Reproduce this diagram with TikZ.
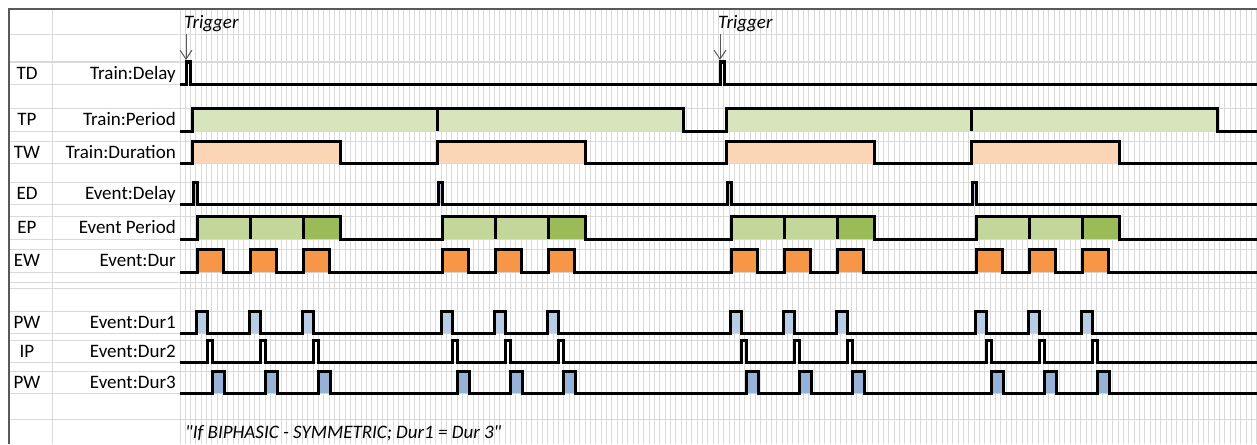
\documentclass[tikz,border=0pt]{standalone}
\usepackage{fontspec}
\setmainfont{Carlito}[Ligatures=TeXOff]
\usetikzlibrary{arrows.meta}
\definecolor{gridc}{HTML}{D9D9D9}
\definecolor{edgec}{HTML}{595959}
\definecolor{tpfill}{HTML}{D8E4BC}
\definecolor{twfill}{HTML}{FCD5B4}
\definecolor{edfill}{HTML}{CCC0DA}
\definecolor{epfill}{HTML}{C4D79B}
\definecolor{eplast}{HTML}{9BBB59}
\definecolor{ewfill}{HTML}{F79646}
\definecolor{pwfill}{HTML}{B8CCE4}
\definecolor{pwfilldk}{HTML}{95B3D7}
\tikzset{
  gridline/.style={draw=gridc, line width=1pt},
  sheetedge/.style={draw=edgec, line width=2pt},
  sig/.style={draw=black, line width=3pt, line join=miter},
  rowcode/.style={font=\fontsize{19}{22}\selectfont, inner sep=0pt, anchor=base},
  rowname/.style={font=\fontsize{19}{22}\selectfont, inner sep=0pt, anchor=base east},
  remark/.style={font=\fontsize{19}{22}\selectfont\itshape, inner sep=0pt, anchor=base west},
  trig/.style={draw=edgec, line width=1pt, shorten <=2pt,
               -{Straight Barb[length=9pt,width=12pt]}},
}
% rising edge of each train and of each event inside it
\def\trainstarts{192,437,726,971}
\def\eventstarts{197,250,303,442,495,548,731,784,837,976,1029,1082}

\begin{document}
\begin{tikzpicture}[x=1pt, y=-1pt]
\useasboundingbox (0,0) rectangle (1257,444);

% sheet grid
\foreach \i in {0,...,202}
  \draw[gridline] ({180+5.33*\i},9) -- ({180+5.33*\i},444);
\foreach \y in {35,62,84,108,131,141,163,182,204,216,239,249,272,282,288,311,333,340,362,371,393,419}
  \draw[gridline] (9,\y) -- (1257,\y);
\draw[gridline] (52,9) -- (52,444);
\draw[sheetedge] (9,444) -- (9,9) -- (1257,9);

% row labels
\foreach \y/\c/\l [count=\i] in {73/TD/Train:Delay, 119.5/TP/Train:Period,
    152/TW/Train:Duration, 193/ED/Event:Delay, 227.5/EP/Event Period,
    260.5/EW/Event:Dur, 322/PW/Event:Dur1, 351/IP/Event:Dur2, 382/PW/Event:Dur3}
  {\node[rowcode] (code\i) at (27,\y+6) {\c};
   \node[rowname] (name\i) at (176,\y+6) {\l};}

% triggers
\node[remark] (trig1) at (184,29) {Trigger};
\node[remark] (trig2) at (718,29) {Trigger};
\coordinate (td1) at (186,60);
\coordinate (td2) at (720,60);
\draw[trig] (td1 |- trig1.south) -- (td1);
\draw[trig] (td2 |- trig2.south) -- (td2);

% TD
\draw[sig] (180,84) -| (186,62) -| (190,84) -| (720,62) -| (724,84) -- (1257,84);

% TP
\fill[tpfill] (192,108) rectangle (683,131) (726,108) rectangle (1217,131);
\draw[sig] (180,131) -| (192,108) -| (683,131) -| (726,108) -| (1217,131) -- (1257,131);
\draw[sig] (437,108) -- (437,131) (971,108) -- (971,131);

% TW
\fill[twfill] \foreach \t in \trainstarts {(\t,141) rectangle (\t+148,163)};
\draw[sig] (180,163) \foreach \t in \trainstarts {-| (\t,141) -| (\t+148,163)} -- (1257,163);

% ED
\fill[edfill] \foreach \t in \trainstarts {(\t+1,182) rectangle (\t+5,204)};
\draw[sig] (180,204) \foreach \t in \trainstarts {-| (\t+1,182) -| (\t+5,204)} -- (1257,204);

% EP
\fill[epfill] \foreach \t in \trainstarts {(\t+5,216) rectangle (\t+111,239)};
\fill[eplast] \foreach \t in \trainstarts {(\t+111,216) rectangle (\t+148,239)};
\draw[sig] (180,239) \foreach \t in \trainstarts {-| (\t+5,216) -| (\t+148,239)} -- (1257,239);
\foreach \t in \trainstarts
  \draw[sig] (\t+58,216) -- (\t+58,239) (\t+111,216) -- (\t+111,239);

% EW
\fill[ewfill] \foreach \e in \eventstarts {(\e,249) rectangle (\e+26,272)};
\draw[sig] (180,272) \foreach \e in \eventstarts {-| (\e,249) -| (\e+26,272)} -- (1257,272);

% PW / IP / PW
\fill[pwfill] \foreach \e in \eventstarts {(\e-1,311) rectangle (\e+10,333)};
\draw[sig] (180,333) \foreach \e in \eventstarts {-| (\e-1,311) -| (\e+10,333)} -- (1257,333);
\draw[sig] (180,362) \foreach \e in \eventstarts {-| (\e+10,340) -| (\e+15,362)} -- (1257,362);
\fill[pwfilldk] \foreach \e in \eventstarts {(\e+15,371) rectangle (\e+27,393)};
\draw[sig] (180,393) \foreach \e in \eventstarts {-| (\e+15,371) -| (\e+27,393)} -- (1257,393);

\node[remark] (note) at (185,438) {"If BIPHASIC - SYMMETRIC; Dur1 = Dur 3"};
\end{tikzpicture}
\end{document}
